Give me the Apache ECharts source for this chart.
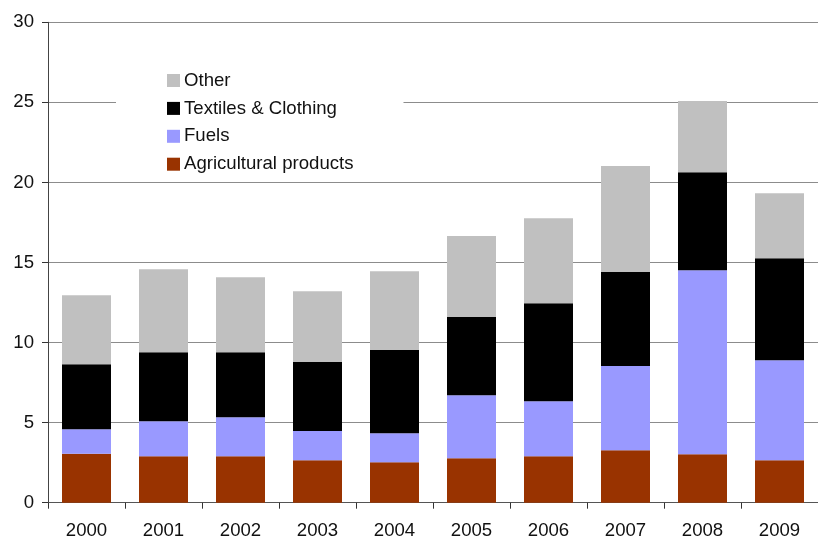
<!DOCTYPE html>
<html>
<head>
<meta charset="utf-8">
<script src="https://cdn.jsdelivr.net/npm/echarts@6/dist/echarts.min.js"></script>
<style>
  html, body { margin: 0; padding: 0; background: #fff; }
  #chart { width: 818px; height: 543px; }
</style>
</head>
<body>
<div id="chart"></div>
<script>
// Stacked export composition by year
const years = ['2000', '2001', '2002', '2003', '2004', '2005', '2006', '2007', '2008', '2009'];
const agricultural = [3.05, 2.90, 2.90, 2.65, 2.53, 2.78, 2.90, 3.28, 3.03, 2.65];
const fuels        = [1.54, 2.19, 2.44, 1.82, 1.81, 3.93, 3.44, 5.25, 11.49, 6.25];
const textiles     = [4.06, 4.31, 4.06, 4.31, 5.19, 4.88, 6.12, 5.87, 6.12, 6.37];
const other        = [4.31, 5.18, 4.68, 4.43, 4.93, 5.06, 5.31, 6.62, 4.44, 4.06];
const legendOrder  = ['Other', 'Textiles & Clothing', 'Fuels', 'Agricultural products'];

const FONT = "'Liberation Sans', Arial, sans-serif";
const FS = 18.6;
const chart = echarts.init(document.getElementById('chart'));

function bar(name, data, color) {
  return {
    name, type: 'bar', stack: 'total', data,
    barWidth: 49,
    itemStyle: { color },
    emphasis: { disabled: true }
  };
}

chart.setOption({
  animation: false,
  backgroundColor: '#fff',
  textStyle: { fontFamily: FONT },
  grid: { left: 48, top: 22.3, right: -11, bottom: 40.3, containLabel: false },
  legend: {
    data: legendOrder,
    orient: 'vertical',
    left: 116,
    top: 56,
    padding: [15, 50, 3, 51],
    backgroundColor: '#fff',
    itemWidth: 13,
    itemHeight: 13,
    itemGap: 8.9,
    icon: 'rect',
    textStyle: { fontFamily: FONT, fontSize: FS, color: '#111', lineHeight: 18, padding: [0, 0, 0, -1] }
  },
  xAxis: {
    type: 'category',
    data: years,
    axisLine: { lineStyle: { color: '#555', width: 1 } },
    axisTick: { show: true, length: 6, lineStyle: { color: '#333', width: 1 } },
    axisLabel: { fontFamily: FONT, fontSize: FS, color: '#111', margin: 19 }
  },
  yAxis: {
    type: 'value',
    min: 0, max: 30, interval: 5,
    axisLine: { show: true, lineStyle: { color: '#444', width: 1 } },
    axisTick: { show: true, length: 6, lineStyle: { color: '#333' } },
    axisLabel: { fontFamily: FONT, fontSize: FS, color: '#111', margin: 14 },
    splitLine: { lineStyle: { color: '#8c8c8c', width: 1 } }
  },
  series: [
    bar('Agricultural products', agricultural, '#993300'),
    bar('Fuels', fuels, '#9999FF'),
    bar('Textiles & Clothing', textiles, '#000000'),
    bar('Other', other, '#C0C0C0')
  ]
});
</script>
</body>
</html>
